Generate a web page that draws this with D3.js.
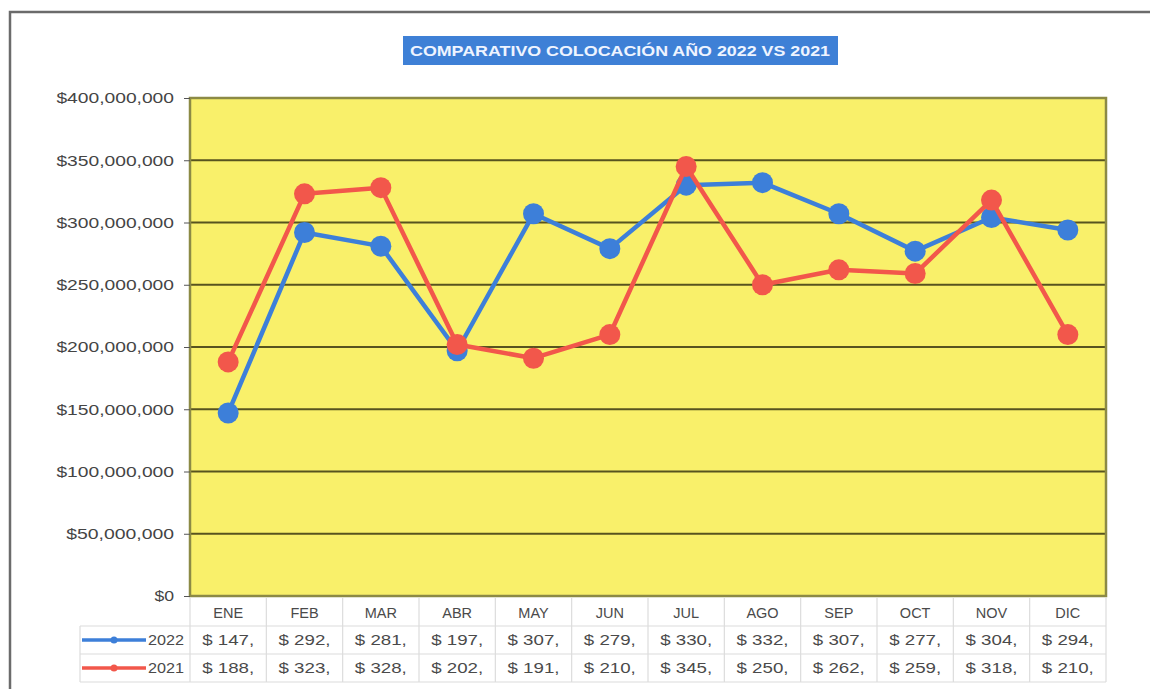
<!DOCTYPE html>
<html>
<head>
<meta charset="utf-8">
<script src="https://cdn.jsdelivr.net/npm/d3@7"></script>
<style>
  body { margin: 0; background: #fff; }
  text { font-family: "Liberation Sans", Arial, sans-serif; }
</style>
</head>
<body>
<svg class="line-chart"></svg>
<script>
/****** Data *******/
var months = ["ENE", "FEB", "MAR", "ABR", "MAY", "JUN", "JUL", "AGO", "SEP", "OCT", "NOV", "DIC"];
var values2022 = [147, 292, 281, 197, 307, 279, 330, 332, 307, 277, 304, 294];   // millions
var values2021 = [188, 323, 328, 202, 191, 210, 345, 250, 262, 259, 318, 210];   // millions
var yTicks = [0, 50, 100, 150, 200, 250, 300, 350, 400];
var title = "COMPARATIVO COLOCACIÓN AÑO 2022 VS 2021";

var series = [
    {name: "2022", values: values2022, color: "#3d7fd9"},
    {name: "2021", values: values2021, color: "#f2574b"}
];

/** Draw chart **/
var svgWidth = 1150, svgHeight = 689;
var margin = {top: 98, right: 44, bottom: 93, left: 190};
var width = svgWidth - margin.left - margin.right;
var height = svgHeight - margin.top - margin.bottom;

var svg = d3.select(".line-chart")
    .attr("width", svgWidth)
    .attr("height", svgHeight);

// outer frame
svg.append("path")
    .attr("d", "M10," + svgHeight + " V12 H" + svgWidth)
    .attr("fill", "none")
    .attr("stroke", "#6b6b6b")
    .attr("stroke-width", 2.5);

// title
var titleBox = svg.append("g").attr("transform", "translate(403,36)");
titleBox.append("rect")
    .attr("width", 435)
    .attr("height", 29)
    .attr("fill", "#3e80d6");
titleBox.append("text")
    .attr("x", 217)
    .attr("y", 20)
    .attr("text-anchor", "middle")
    .attr("fill", "#eef4ff")
    .attr("font-size", 14)
    .attr("font-weight", "bold")
    .attr("textLength", 420)
    .attr("lengthAdjust", "spacingAndGlyphs")
    .text(title);

var g = svg.append("g")
    .attr("transform", "translate(" + margin.left + "," + margin.top + ")");

var x = d3.scaleBand()
    .domain(months)
    .range([0, width]);

var y = d3.scaleLinear()
    .domain([0, 400])
    .range([height, 0]);

// plot background
g.append("rect")
    .attr("width", width)
    .attr("height", height)
    .attr("fill", "#f9f06a");

// gridlines
g.append("g")
    .selectAll("line")
    .data(yTicks.slice(1))
    .enter().append("line")
    .attr("x1", 0)
    .attr("x2", width)
    .attr("y1", function (d) { return y(d); })
    .attr("y2", function (d) { return y(d); })
    .attr("stroke", "#57531f")
    .attr("stroke-width", 2);

// plot border
g.append("rect")
    .attr("width", width)
    .attr("height", height)
    .attr("fill", "none")
    .attr("stroke", "#8c8a45")
    .attr("stroke-width", 2.5);

// y axis
var yAxis = g.append("g")
    .call(d3.axisLeft(y)
        .tickValues(yTicks)
        .tickSize(6)
        .tickPadding(10)
        .tickFormat(function (d) {
            return "$" + d3.format(",")(d * 1000000);
        }));
yAxis.select(".domain").remove();
yAxis.selectAll("line").attr("stroke", "#555");
yAxis.selectAll("text")
    .attr("fill", "#444")
    .attr("font-size", 15)
    .attr("font-family", "Liberation Sans, Arial, sans-serif")
    .attr("textLength", function (d) { return this.textContent.length * 9.8; })
    .attr("lengthAdjust", "spacingAndGlyphs");

// lines + markers
var line = d3.line()
    .x(function (d, i) { return x(months[i]) + x.bandwidth() / 2; })
    .y(function (d) { return y(d); });

series.forEach(function (s) {
    g.append("path")
        .datum(s.values)
        .attr("fill", "none")
        .attr("stroke", s.color)
        .attr("stroke-width", 4.5)
        .attr("stroke-linejoin", "round")
        .attr("d", line);

    g.selectAll(".dot-" + s.name)
        .data(s.values)
        .enter().append("circle")
        .attr("cx", function (d, i) { return x(months[i]) + x.bandwidth() / 2; })
        .attr("cy", function (d) { return y(d); })
        .attr("r", 10.5)
        .attr("fill", s.color);
});

/** Data table **/
var rowH = 28;
var tableTop = height + 2;
var legendLeft = -110;
var t = g.append("g").attr("transform", "translate(0," + tableTop + ")");
var gridColor = "#dcdcdc";

// horizontal lines
[rowH, rowH * 2, rowH * 3].forEach(function (yy) {
    t.append("line")
        .attr("x1", legendLeft)
        .attr("x2", width)
        .attr("y1", yy)
        .attr("y2", yy)
        .attr("stroke", gridColor)
        .attr("stroke-width", 1.2);
});
// vertical lines
months.forEach(function (m) {
    t.append("line")
        .attr("x1", x(m))
        .attr("x2", x(m))
        .attr("y1", 0)
        .attr("y2", rowH * 3)
        .attr("stroke", gridColor)
        .attr("stroke-width", 1.2);
});
t.append("line")
    .attr("x1", width).attr("x2", width)
    .attr("y1", 0).attr("y2", rowH * 3)
    .attr("stroke", gridColor).attr("stroke-width", 1.2);
t.append("line")
    .attr("x1", legendLeft).attr("x2", legendLeft)
    .attr("y1", rowH).attr("y2", rowH * 3)
    .attr("stroke", gridColor).attr("stroke-width", 1.2);

// month headers
t.selectAll(".month")
    .data(months)
    .enter().append("text")
    .attr("x", function (d) { return x(d) + x.bandwidth() / 2; })
    .attr("y", 20)
    .attr("text-anchor", "middle")
    .attr("fill", "#4a4a4a")
    .attr("font-size", 14.5)
    .text(function (d) { return d; });

series.forEach(function (s, si) {
    var ry = rowH * (si + 1);
    // legend key
    t.append("line")
        .attr("x1", legendLeft + 2)
        .attr("x2", legendLeft + 66)
        .attr("y1", ry + rowH / 2)
        .attr("y2", ry + rowH / 2)
        .attr("stroke", s.color)
        .attr("stroke-width", 3.5);
    t.append("circle")
        .attr("cx", legendLeft + 34)
        .attr("cy", ry + rowH / 2)
        .attr("r", 3.5)
        .attr("fill", s.color);
    t.append("text")
        .attr("x", -6)
        .attr("y", ry + 19)
        .attr("text-anchor", "end")
        .attr("fill", "#4a4a4a")
        .attr("font-size", 15)
        .attr("textLength", 36)
        .attr("lengthAdjust", "spacingAndGlyphs")
        .text(s.name);
    t.selectAll(".val-" + s.name)
        .data(s.values)
        .enter().append("text")
        .attr("x", function (d, i) { return x(months[i]) + x.bandwidth() / 2; })
        .attr("y", ry + 19)
        .attr("text-anchor", "middle")
        .attr("fill", "#4a4a4a")
        .attr("font-size", 15)
        .attr("textLength", 52)
        .attr("lengthAdjust", "spacingAndGlyphs")
        .text(function (d) { return "$ " + d + ","; });
});
</script>
</body>
</html>
